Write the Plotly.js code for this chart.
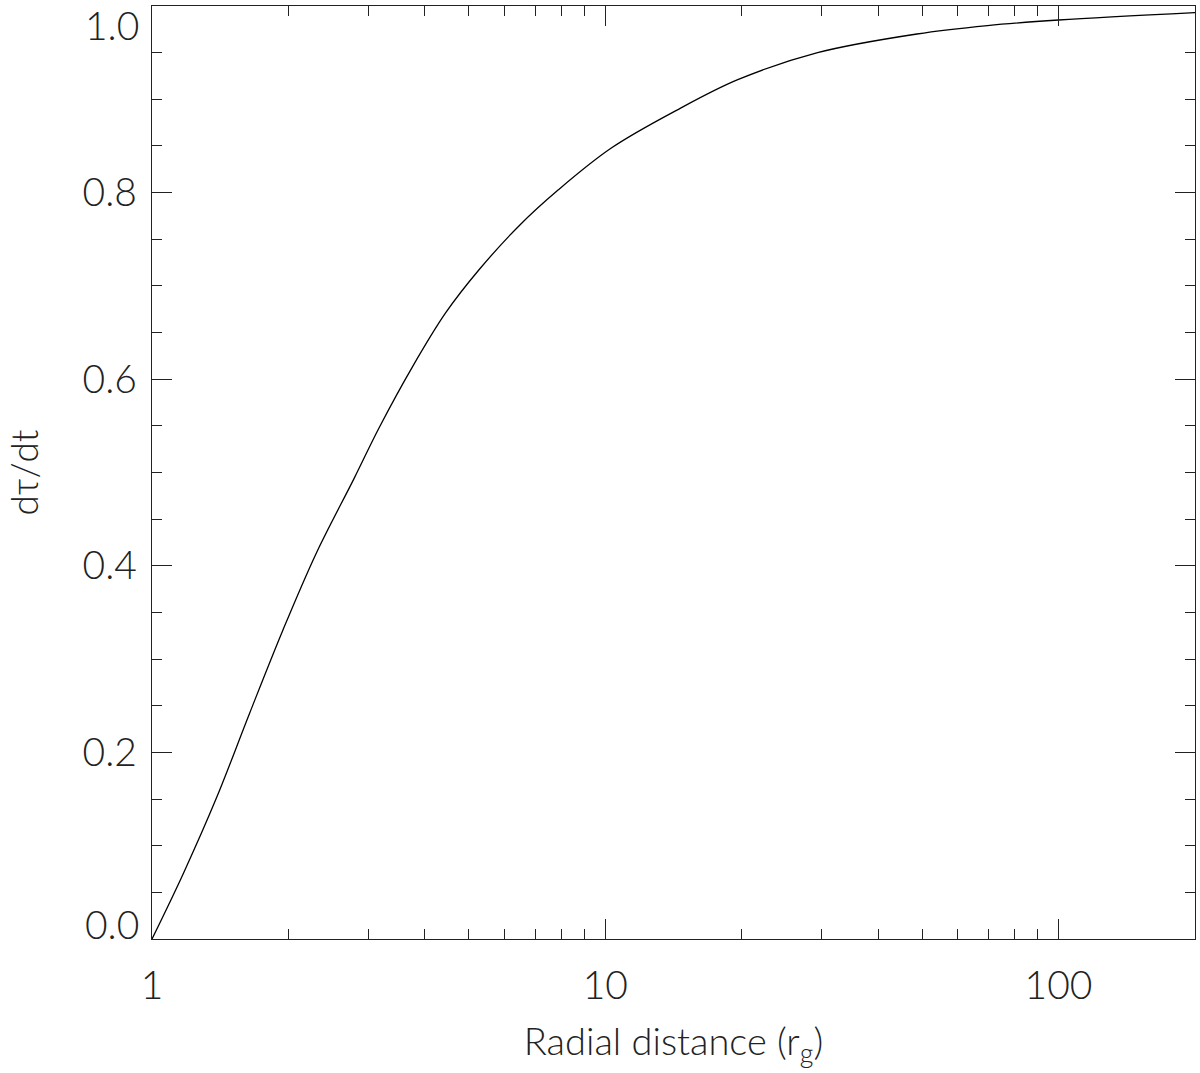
<!DOCTYPE html>
<html>
<head>
<meta charset="utf-8">
<script src="https://cdn.plot.ly/plotly-3.0.1.min.js"></script>
<style>
  body { margin: 0; background: #fff; }
  #chart { width: 1200px; height: 1073px; }
</style>
</head>
<body>
<div id="chart"></div>
<script>
// Values
const radius = [1, 1.172, 1.387, 1.642, 1.944, 2.301, 2.794, 3.17, 3.752, 4.443, 5.26,
                6.44, 7.88, 10.33, 14.47, 19.6, 29.4, 48.7, 69.7, 100, 200];
const dtaudt = [0, 0.070, 0.151, 0.242, 0.331, 0.413, 0.494, 0.548, 0.613, 0.671, 0.717,
                0.764, 0.803, 0.848, 0.889, 0.921, 0.950, 0.970, 0.979, 0.985, 0.993];

const xTickVals = [1, 10, 100];
const xTickLabels = ['1', '10', '100'];
const xMinorVals = [2, 3, 4, 5, 6, 7, 8, 9, 20, 30, 40, 50, 60, 70, 80, 90];
// inner labels go on the axis; 0.0 and 1.0 sit inside the frame like the original
const yTickVals = [0.2, 0.4, 0.6, 0.8];
const yTickLabels = ['0.2', '0.4', '0.6', '0.8'];
const yMinorVals = [0.05, 0.1, 0.15, 0.25, 0.3, 0.35, 0.45, 0.5, 0.55, 0.65, 0.7, 0.75, 0.85, 0.9, 0.95];
const yEndVals = [0, 1.0];
const yEndLabels = ['0.0', '1.0'];

const fontFamily = '"Lato Light", Lato, "DejaVu Sans", sans-serif';
const textColor = '#222';
const tickFont = { size: 39, family: fontFamily, color: textColor, weight: 300 };

const trace = {
    x: radius,
    y: dtaudt,
    type: 'scatter',
    mode: 'lines',
    line: { color: '#000', width: 1.3, shape: 'spline', smoothing: 1 },
    hoverinfo: 'x+y'
};

const endAnnotations = yEndVals.map((v, i) => ({
    xref: 'paper',
    yref: 'y',
    x: 0,
    y: v,
    xanchor: 'right',
    yanchor: v === 0 ? 'bottom' : 'top',
    xshift: -11,
    yshift: v === 0 ? -10 : 6,
    text: yEndLabels[i],
    showarrow: false,
    font: tickFont
}));

const layout = {
    width: 1200,
    height: 1073,
    margin: { l: 152, r: 5, t: 6, b: 134 },
    paper_bgcolor: '#fff',
    plot_bgcolor: '#fff',
    showlegend: false,
    font: { family: fontFamily, color: textColor, weight: 300 },
    xaxis: {
        type: 'log',
        range: [0, Math.log10(200)],
        tickvals: xTickVals,
        ticktext: xTickLabels,
        ticks: 'inside',
        ticklen: 20,
        tickwidth: 1,
        tickcolor: '#222',
        minor: { tickvals: xMinorVals, ticks: 'inside', ticklen: 10, tickwidth: 1, tickcolor: '#222' },
        showline: true,
        linecolor: '#222',
        linewidth: 1.3,
        mirror: 'ticks',
        showgrid: false,
        zeroline: false,
        tickfont: tickFont,
        ticklabelstandoff: 12,
        title: {
            text: 'Radial distance (r<sub>g</sub>)',
            font: { size: 38, family: fontFamily, color: textColor, weight: 300 },
            standoff: 22
        }
    },
    yaxis: {
        range: [0, 1],
        tickvals: yTickVals,
        ticktext: yTickLabels,
        ticks: 'inside',
        ticklen: 20,
        tickwidth: 1,
        tickcolor: '#222',
        minor: { tickvals: yMinorVals, ticks: 'inside', ticklen: 10, tickwidth: 1, tickcolor: '#222' },
        showline: true,
        linecolor: '#222',
        linewidth: 1.3,
        mirror: 'ticks',
        showgrid: false,
        zeroline: false,
        tickfont: tickFont,
        ticklabelstandoff: 6,
        title: {
            text: 'dτ/dt',
            font: { size: 37, family: fontFamily, color: textColor, weight: 300 },
            standoff: 32
        }
    },
    annotations: endAnnotations
};

Plotly.newPlot('chart', [trace], layout, { displayModeBar: false, staticPlot: true });
</script>
</body>
</html>
